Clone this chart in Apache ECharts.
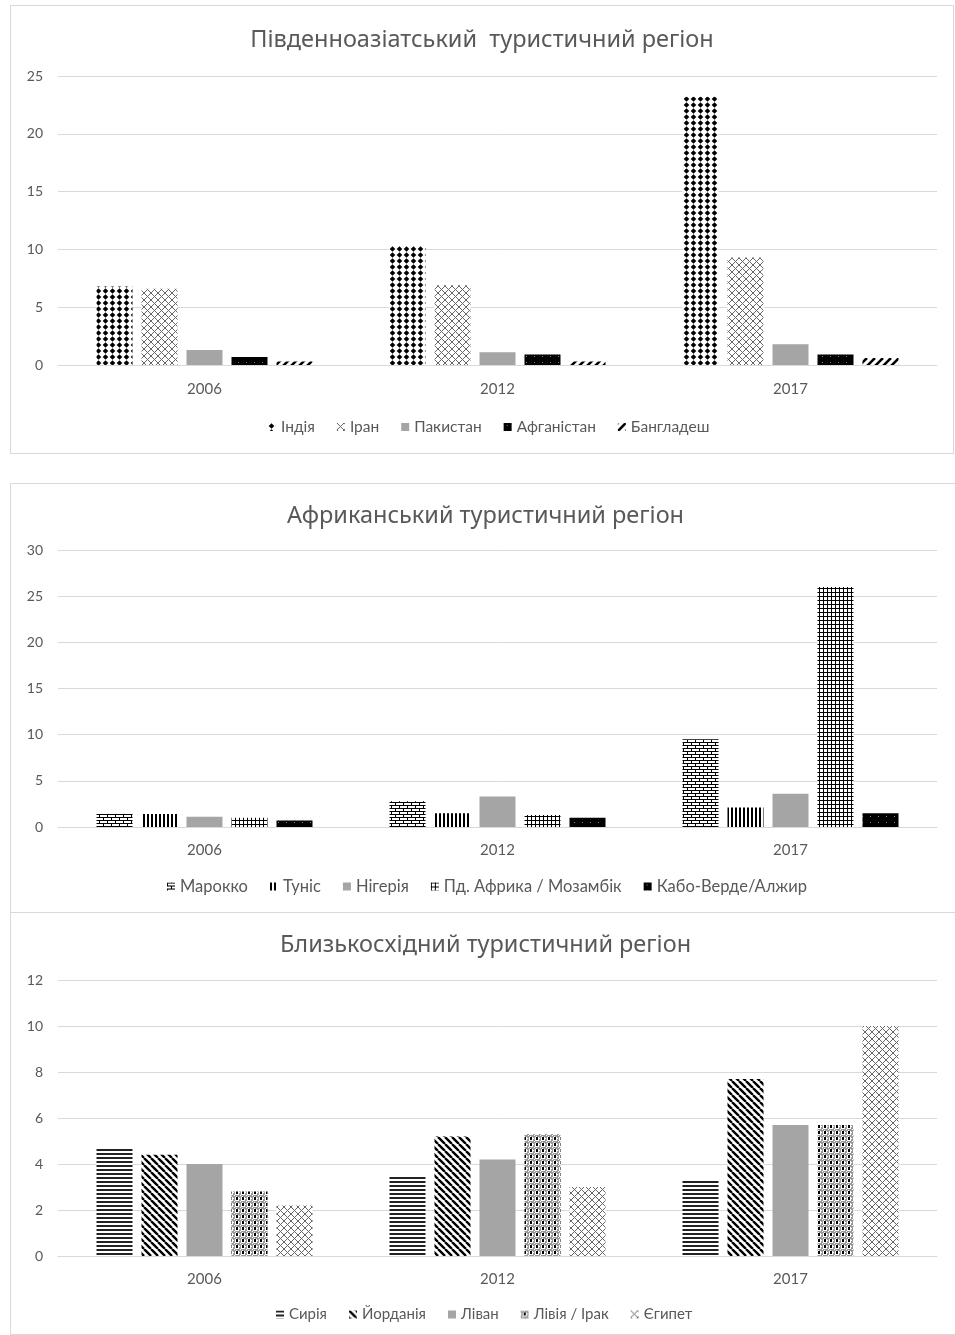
<!DOCTYPE html>
<html><head><meta charset="utf-8">
<script src="https://cdn.jsdelivr.net/npm/echarts@6/dist/echarts.min.js"></script>
<style>
html,body{margin:0;padding:0;background:#fff;width:955px;height:1335px;overflow:hidden;position:relative}
.box{position:absolute;box-sizing:border-box;border:1px solid #d9d9d9;background:#fff}
#c1{left:10px;top:5px;width:944px;height:449px}
#c2{left:10px;top:483px;width:950px;height:430px;border-right:none}
#c3{left:10px;top:912px;width:950px;height:423px;border-right:none}
</style></head><body>
<div id="c1" class="box"></div>
<div id="c2" class="box"></div>
<div id="c3" class="box"></div>
<script>
// ---------- DATA ----------
const years = ['2006', '2012', '2017'];

const southAsiaTitle = 'Південноазіатський  туристичний регіон';
const southAsiaNames = ['Індія', 'Іран', 'Пакистан', 'Афганістан', 'Бангладеш'];
const india = [6.8, 10.3, 23.2];
const iran = [6.6, 6.9, 9.3];
const pakistan = [1.3, 1.1, 1.8];
const afghanistan = [0.7, 0.9, 0.9];
const bangladesh = [0.3, 0.3, 0.6];
const southAsiaTicks = [0, 5, 10, 15, 20, 25];

const africaTitle = 'Африканський туристичний регіон';
const africaNames = ['Марокко', 'Туніс', 'Нігерія', 'Пд. Африка / Мозамбік', 'Кабо-Верде/Алжир'];
const morocco = [1.4, 2.8, 9.5];
const tunisia = [1.4, 1.5, 2.1];
const nigeria = [1.1, 3.3, 3.6];
const southAfrica = [1.0, 1.3, 26.0];
const capeVerde = [0.7, 1.0, 1.5];
const africaTicks = [0, 5, 10, 15, 20, 25, 30];

const middleEastTitle = 'Близькосхідний туристичний регіон';
const middleEastNames = ['Сирія', 'Йорданія', 'Ліван', 'Лівія / Ірак', 'Єгипет'];
const syria = [4.7, 3.5, 3.3];
const jordan = [4.4, 5.2, 7.7];
const lebanon = [4.0, 4.2, 5.7];
const libyaIraq = [2.8, 5.3, 5.7];
const egypt = [2.2, 3.0, 10.0];
const middleEastTicks = [0, 2, 4, 6, 8, 10, 12];

// ---------- PATTERNS (styles) ----------
function tile(w, h, draw) {
  const c = document.createElement('canvas');
  c.width = w; c.height = h;
  const g = c.getContext('2d');
  g.fillStyle = '#fff'; g.fillRect(0, 0, w, h);
  draw(g, w, h);
  return { image: c, repeat: 'repeat' };
}
const P = {
  diamond: () => tile(7, 6, (g) => {
    g.fillStyle = '#000';
    g.beginPath(); g.moveTo(3.5, 0.3); g.lineTo(6.3, 3); g.lineTo(3.5, 5.7); g.lineTo(0.7, 3); g.closePath(); g.fill();
  }),
  lattice: () => tile(7, 7, (g) => {
    g.strokeStyle = '#666'; g.lineWidth = 1;
    g.beginPath(); g.moveTo(0, 0); g.lineTo(7, 7); g.moveTo(7, 0); g.lineTo(0, 7); g.stroke();
  }),
  gray: () => '#a5a5a5',
  blackDots: () => tile(8, 6, (g, w, h) => {
    g.fillStyle = '#000'; g.fillRect(0, 0, w, h);
    g.fillStyle = '#888'; g.fillRect(3, 2, 1, 1);
  }),
  upDiag: () => tile(8, 8, (g) => {
    g.strokeStyle = '#000'; g.lineWidth = 2.6;
    g.beginPath();
    for (let k = -8; k <= 16; k += 8) { g.moveTo(k, 8); g.lineTo(k + 8, 0); }
    g.stroke();
  }),
  downDiag: () => tile(7, 7, (g) => {
    g.strokeStyle = '#000'; g.lineWidth = 2.4;
    g.beginPath();
    for (let k = -7; k <= 14; k += 7) { g.moveTo(k, 0); g.lineTo(k + 7, 7); }
    g.stroke();
  }),
  brick: () => tile(8, 6, (g) => {
    g.fillStyle = '#000';
    g.fillRect(0, 0, 8, 1); g.fillRect(0, 3, 8, 1);
    g.fillRect(0, 0, 1, 3); g.fillRect(4, 3, 1, 3);
  }),
  vStripes: () => tile(4, 2, (g) => {
    g.fillStyle = '#000'; g.fillRect(0, 0, 2, 2);
  }),
  smallGrid: () => tile(4, 4, (g) => {
    g.fillStyle = '#000'; g.fillRect(0, 0, 4, 1); g.fillRect(0, 0, 1, 4);
  }),
  hStripes: () => tile(2, 4, (g) => {
    g.fillStyle = '#222'; g.fillRect(0, 0, 2, 2);
  }),
  plaid: () => tile(6, 6, (g) => {
    g.fillStyle = '#999';
    g.fillRect(0, 0, 6, 2); g.fillRect(0, 0, 2, 6);
    g.fillStyle = '#fff'; g.fillRect(1, 0, 1, 1); g.fillRect(3, 1, 1, 1); g.fillRect(0, 3, 1, 1);
    g.fillStyle = '#000'; g.fillRect(3, 2, 2, 3);
  })
};

const FONT = 'Lato, "Noto Sans", sans-serif';
const TFONT = '"Noto Sans", sans-serif';
const TXT = '#595959';

function build(id, title, names, seriesData, patterns, ticks, L) {
  const el = document.getElementById(id);
  const chart = echarts.init(el, null, { renderer: 'canvas' });
  const yMin = ticks[0], yMax = ticks[ticks.length - 1], step = ticks[1] - ticks[0];
  chart.setOption({
    animation: false,
    textStyle: { fontFamily: FONT },
    title: {
      text: title, left: 'center', top: L.titleTop, padding: 0,
      textStyle: { fontFamily: TFONT, fontSize: 23.5, fontWeight: 'normal', color: TXT }
    },
    legend: {
      data: names, top: L.legendTop, left: L.legendLeft, padding: 0,
      icon: 'rect', itemWidth: 8, itemHeight: 8, itemGap: 22,
      textStyle: { fontFamily: FONT, fontSize: L.legendSize, color: TXT }
    },
    grid: { left: 47, width: 879, top: L.gridTop, height: L.gridHeight, containLabel: false },
    xAxis: {
      type: 'category', data: years,
      axisLine: { lineStyle: { color: '#d9d9d9', width: 1 } },
      axisTick: { show: false },
      axisLabel: { color: TXT, fontSize: 15, fontFamily: FONT, margin: L.xMargin }
    },
    yAxis: {
      type: 'value', min: yMin, max: yMax, interval: step,
      axisLine: { show: false }, axisTick: { show: false },
      splitLine: { lineStyle: { color: '#d9d9d9', width: 1 } },
      axisLabel: { color: TXT, fontSize: 14, fontFamily: FONT, margin: 15 }
    },
    series: names.map((n, i) => ({
      name: n, type: 'bar', data: seriesData[i],
      barWidth: 36, barGap: '25%',
      itemStyle: { color: P[patterns[i]]() }
    }))
  });
}

build('c1', southAsiaTitle, southAsiaNames,
  [india, iran, pakistan, afghanistan, bangladesh],
  ['diamond', 'lattice', 'gray', 'blackDots', 'upDiag'],
  southAsiaTicks, { titleTop: 22, legendTop: 413, legendLeft: 257, legendSize: 15.5, gridTop: 70, gridHeight: 289, xMargin: 17 });

build('c2', africaTitle, africaNames,
  [morocco, tunisia, nigeria, southAfrica, capeVerde],
  ['brick', 'vStripes', 'gray', 'smallGrid', 'blackDots'],
  africaTicks, { titleTop: 20, legendTop: 394, legendLeft: 156, legendSize: 16.5, gridTop: 66, gridHeight: 277, xMargin: 16 });

build('c3', middleEastTitle, middleEastNames,
  [syria, jordan, lebanon, libyaIraq, egypt],
  ['hStripes', 'downDiag', 'gray', 'plaid', 'lattice'],
  middleEastTicks, { titleTop: 20, legendTop: 394, legendLeft: 265, legendSize: 15, gridTop: 67, gridHeight: 276, xMargin: 16 });
</script>
</body></html>
